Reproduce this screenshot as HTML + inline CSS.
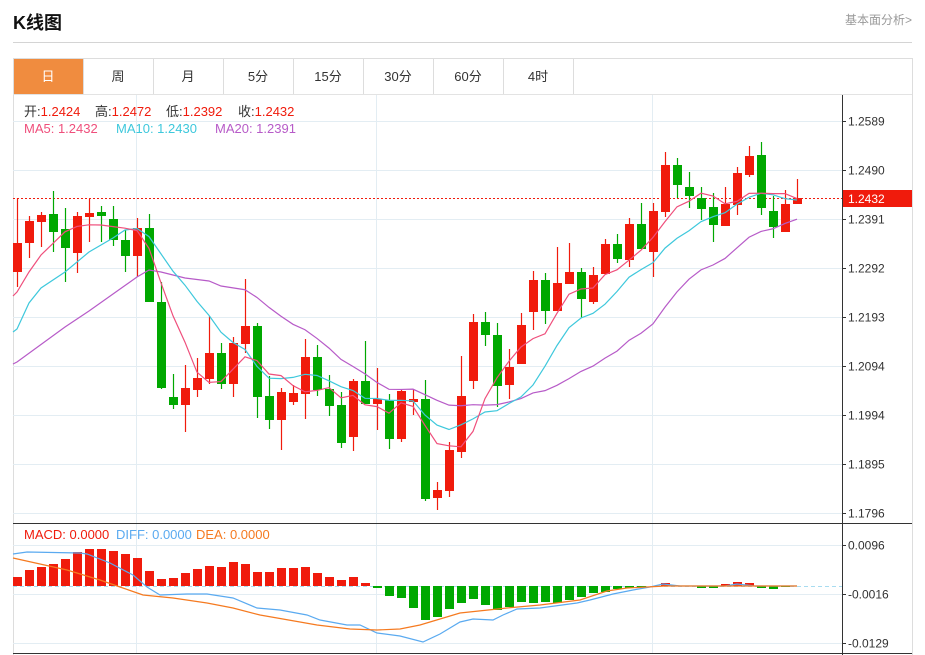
<!DOCTYPE html>
<html><head><meta charset="utf-8"><style>
body{margin:0;width:925px;height:655px;background:#fff;overflow:hidden;font-family:"Liberation Sans","Noto Sans CJK SC",sans-serif}
svg{position:absolute;left:0;top:0}
</style></head><body>
<svg id="s" width="925" height="655" xmlns="http://www.w3.org/2000/svg" font-family="Liberation Sans, Noto Sans CJK SC, sans-serif">
<text x="13" y="29" font-size="18" font-weight="bold" fill="#111">K线图</text>
<text x="912" y="24" font-size="12" fill="#999" text-anchor="end">基本面分析&gt;</text>
<line x1="13" y1="42.5" x2="912" y2="42.5" stroke="#d4d4d4"/>
<rect x="13.5" y="58.5" width="899" height="597" fill="none" stroke="#ddd"/>
<line x1="13" y1="94.5" x2="912" y2="94.5" stroke="#e3e3e3"/>
<rect x="14" y="59" width="69" height="35" fill="#f08c3f"/>
</svg>
<script>
const s=document.getElementById('s');const NS='http://www.w3.org/2000/svg';
function el(t,a,txt){const e=document.createElementNS(NS,t);for(const k in a)e.setAttribute(k,a[k]);if(txt!=null)e.textContent=txt;s.appendChild(e);return e;}
const tabs=['日','周','月','5分','15分','30分','60分','4时'];
tabs.forEach((t,i)=>{const x=13+i*70;if(i>0)el('line',{x1:x+0.5,y1:59,x2:x+0.5,y2:94,stroke:'#ddd'});
el('text',{x:x+35,y:81,'font-size':13,'text-anchor':'middle',fill:i==0?'#fff':'#333'},t);});
el('line',{x1:573.5,y1:59,x2:573.5,y2:94,stroke:'#ddd'});
[121,170,219,268,317,366,415,464,513].forEach(y=>el('line',{x1:13,y1:y+.5,x2:842,y2:y+.5,stroke:'#e3edf3'}));
[545,594,643].forEach(y=>el('line',{x1:13,y1:y+.5,x2:842,y2:y+.5,stroke:'#e3edf3'}));
[136,376,652].forEach(x=>el('line',{x1:x+.5,y1:95,x2:x+.5,y2:653,stroke:'#e3edf3'}));
el('line',{x1:842.5,y1:95,x2:842.5,y2:655,stroke:'#333'});
el('line',{x1:13,y1:523.5,x2:912,y2:523.5,stroke:'#333'});
el('line',{x1:13,y1:653.5,x2:912,y2:653.5,stroke:'#333'});
[[121,'1.2589'],[170,'1.2490'],[219,'1.2391'],[268,'1.2292'],[317,'1.2193'],[366,'1.2094'],[415,'1.1994'],[464,'1.1895'],[513,'1.1796'],[545,'0.0096'],[594,'-0.0016'],[643,'-0.0129']].forEach(([y,t])=>{
el('line',{x1:842,y1:y+.5,x2:846,y2:y+.5,stroke:'#333'});el('text',{x:848,y:y+4.5,'font-size':12,fill:'#333'},t);});
const C=[[272,243,198,287],[243,221,216,258],[222,215,212,247],[214,232,191,252],[229,248,208,282],[253,216,212,273],[217,213,199,242],[212,216,206,242],[219,240,206,246],[240,256,230,272],[256,228,218,277],[228,302,214,302],[302,388,282,389],[397,405,374,409],[405,388,365,432],[390,378,358,397],[379,353,316,384],[353,384,343,389],[384,343,337,397],[344,326,279,353],[326,397,323,418],[396,420,376,429],[420,392,388,450],[402,393,385,405],[394,357,339,419],[357,390,345,396],[389,406,375,416],[405,443,392,448],[437,381,379,451],[381,404,341,404],[404,399,368,430],[400,439,394,449],[439,391,389,442],[402,399,389,415],[399,499,380,501],[498,490,482,510],[491,450,442,497],[452,396,356,458],[381,322,314,389],[322,335,312,346],[335,386,323,407],[385,367,349,399],[364,325,313,364],[312,280,271,330],[280,311,273,324],[311,283,247,311],[284,272,243,284],[272,299,268,318],[302,275,267,304],[274,244,239,274],[244,259,234,263],[260,224,218,267],[224,249,203,249],[252,211,203,277],[212,165,152,217],[165,185,158,198],[187,196,172,208],[198,209,187,220],[207,225,193,242],[226,204,187,226],[205,173,167,215],[175,156,146,177],[155,208,142,215],[211,227,196,238],[232,204,190,232],[204,198,179,204]];
const X=i=>17+12*i;
el('line',{x1:13,y1:198.5,x2:842,y2:198.5,stroke:'#f01b0c','stroke-dasharray':'2,2'});
C.forEach((c,i)=>{const up=c[1]<c[0];const col=up?'#f01b0c':'#00a800';const x=X(i);
el('line',{x1:x+.5,y1:c[2],x2:x+.5,y2:c[3],stroke:col,'stroke-width':1.2});
const t=Math.min(c[0],c[1]),b=Math.max(c[0],c[1]);el('rect',{x:x-4,y:t,width:9,height:Math.max(b-t,1.5),fill:col});});
function ma(n,hand){const pts=hand.slice();for(let i=n-1;i<C.length;i++){let s0=0;for(let j=i-n+1;j<=i;j++)s0+=C[j][1];pts.push([X(i),s0/n]);}return pts;}
function pl(p,col){el('polyline',{points:p.map(q=>q.join(',')).join(' '),fill:'none',stroke:col,'stroke-width':1.2});}
pl(ma(20,[[13,364],[17,362],[65,327],[89,311],[113,294],[137,277],[149,270],[161,272],[185,278],[209,281],[221,286]]),'#b75bc8');
pl(ma(10,[[13,332],[17,329],[29,303],[41,288],[65,272],[89,252],[113,238]]),'#3ec8dc');
pl(ma(5,[[13,296],[17,292],[29,272],[41,255]]),'#ef4f7c');
el('rect',{x:843,y:190,width:69,height:17,fill:'#f01b0c'});
el('text',{x:848,y:203,'font-size':12,fill:'#fff'},'1.2432');
const lg=(x,y,parts)=>{const t=el('text',{x:x,y:y,'font-size':13});parts.forEach(([c,s1])=>{const sp=document.createElementNS(NS,'tspan');sp.setAttribute('fill',c);sp.textContent=s1;t.appendChild(sp);});};
lg(24,116,[['#333','开:'],['#f01b0c','1.2424']]);
lg(95,116,[['#333','高:'],['#f01b0c','1.2472']]);
lg(166,116,[['#333','低:'],['#f01b0c','1.2392']]);
lg(238,116,[['#333','收:'],['#f01b0c','1.2432']]);
lg(24,133,[['#ef4f7c','MA5: 1.2432']]);
lg(116,133,[['#3ec8dc','MA10: 1.2430']]);
lg(215,133,[['#b75bc8','MA20: 1.2391']]);
lg(24,539,[['#f01b0c','MACD: 0.0000']]);
lg(116,539,[['#5aaaf0','DIFF: 0.0000']]);
lg(196,539,[['#f57a20','DEA: 0.0000']]);
el('line',{x1:13,y1:586.5,x2:842,y2:586.5,stroke:'#a8dcf0','stroke-dasharray':'4,3'});
const H=[577,570,567,564,559,552,549,549,551,554,558,571,579,578,573,569,566,567,562,564,572,572,568,568,567,573,577,580,577,583,588,596,598,608,620,617,609,603,599,605,610,607,602,603,602,603,600,597,593,592,589,588,587,586,583,586,586,588,588,584,582,583,588,589,587,586];
H.forEach((h,i)=>{const x=X(i);const t=Math.min(h,586),b=Math.max(h,586);if(b-t<0.5)return;el('rect',{x:x-4,y:t,width:9,height:b-t,fill:h<586?'#f01b0c':'#00a800'});});
pl([[13,554],[27,552],[80,553],[87,554],[110,563],[133,575],[147,587],[160,595],[187,594],[207,594],[233,598],[257,608],[280,610],[307,615],[320,620],[347,625],[360,625],[377,633],[400,636],[423,642],[440,634],[460,622],[473,619],[493,620],[503,615],[517,609],[540,608],[577,603],[590,600],[613,594],[633,590],[650,587],[663,584],[680,586],[725,586],[737,584],[755,586],[797,586]],'#5aaaf0');
pl([[13,558],[67,570],[100,580],[120,587],[143,595],[173,598],[207,603],[233,608],[260,615],[300,622],[317,625],[350,629],[377,630],[400,629],[420,625],[440,619],[460,613],[507,608],[540,605],[580,600],[607,591],[627,588],[647,587],[665,586],[797,586]],'#f57a20');
</script>
</body></html>
